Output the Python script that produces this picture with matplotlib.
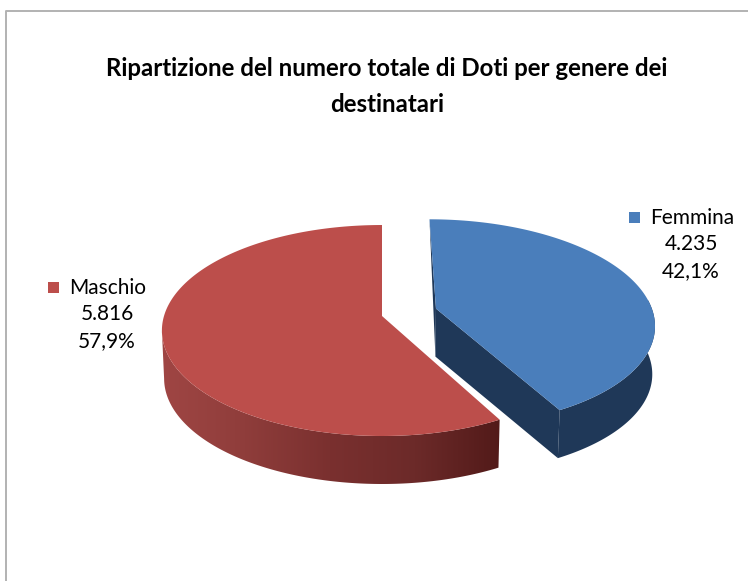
import numpy as np
import matplotlib
matplotlib.use("Agg")
import matplotlib.pyplot as plt
from matplotlib.colors import LinearSegmentedColormap
from matplotlib.patches import Polygon, Rectangle

# dati
categories = ["Femmina", "Maschio"]
values = [4235, 5816]
title_lines = ["Ripartizione del numero totale di Doti per genere dei", "destinatari"]

# layout in pixel, stessa prospettiva per le due fette
CX, CY = 382, 316
RX, RY = 218, 103.5
PERSP = 0.1375
DEPTH = 48
BOTTOM_SCALE = 0.99

plt.rcParams["font.family"] = ["Lato", "DejaVu Sans"]


def project(u, v, bottom=False):
    k = 1 / (1 + PERSP * v)
    x = RX * u * k
    y = CY - RY * v * k
    if bottom:
        return CX + x * BOTTOM_SCALE, y + DEPTH
    return CX + x, y


def rim(a0, a1, du, dv, bottom=False, n=160):
    # angoli in gradi, in senso orario dalle ore 12
    t = np.radians(np.linspace(a0, a1, n))
    return project(np.sin(t) + du, np.cos(t) + dv, bottom)


fig = plt.figure(figsize=(7.48, 5.81), dpi=100)
ax = fig.add_axes([0, 0, 1, 1])
ax.axis("off")

# cornice
ax.plot([6, 6, 748], [581, 10.5, 10.5], color="#b2b2b2", lw=1.4, zorder=1)

shares = np.array(values) / sum(values) * 100
blue_end = shares[0] * 3.6

# fetta rossa (Maschio): fianco sfumato da sinistra a destra
red_cmap = LinearSegmentedColormap.from_list(
    "red_side", ["#a04644", "#8f3d3b", "#7a302f", "#6c2a29", "#521a19"])
xt, yt = rim(blue_end, 262, 0, 0)
xb, yb = rim(blue_end, 262, 0, 0, bottom=True)
side = Polygon(np.column_stack([np.r_[xt, xb[::-1]], np.r_[yt, yb[::-1]]]), closed=True,
               fc="none", ec="none", transform=ax.transData)
ax.add_patch(side)
grad = ax.imshow(np.linspace(0, 1, 256)[None, :], cmap=red_cmap, aspect="auto",
                 extent=[xt.min() - 3, xt.max() + 1, yb.max() + 1, yt.min() - 1], zorder=2)
grad.set_clip_path(side)

xt, yt = rim(blue_end, 360, 0, 0, n=240)
ax.add_patch(Polygon(np.column_stack([np.r_[xt, CX], np.r_[yt, CY]]), closed=True,
                     fc="#bc4e4b", ec="none", zorder=3))

# fetta blu (Femmina), esplosa verso destra
DU, DV = 0.25, 0.072
blue_side = "#1f3858"
xt, yt = rim(0, blue_end, DU, DV)
xs, ys = rim(85, blue_end, DU, DV)
xb, yb = rim(85, blue_end, DU, DV, bottom=True)
px_t, py_t = project(DU, DV)
px_b, py_b = project(DU, DV, bottom=True)
ax.add_patch(Polygon(np.column_stack([np.r_[xs, xb[::-1]], np.r_[ys, yb[::-1]]]), closed=True,
                     fc=blue_side, ec="none", zorder=4))
ax.add_patch(Polygon([(xt[0], yt[0]), (px_t, py_t), (px_b, py_b)], closed=True,
                     fc=blue_side, ec="none", zorder=4))
ax.add_patch(Polygon([(px_t, py_t), (xs[-1], ys[-1]), (xb[-1], yb[-1]), (px_b, py_b)], closed=True,
                     fc=blue_side, ec="none", zorder=4))
ax.add_patch(Polygon(np.column_stack([np.r_[xt, px_t], np.r_[yt, py_t]]), closed=True,
                     fc="#4a7ebb", ec="none", zorder=5))

# titolo
ax.text(387, 69, title_lines[0], ha="center", va="center", fontsize=17.3, weight="bold", color="black")
ax.text(387, 104, title_lines[1], ha="center", va="center", fontsize=17.3, weight="bold", color="black")


def label(name, value, share, x_text, x_center, y0, square_x, color):
    ax.add_patch(Rectangle((square_x, y0 - 6), 11, 11, fc=color, ec="none", zorder=6))
    ax.text(x_text, y0, name, ha="left", va="center", fontsize=15, color="black")
    ax.text(x_center, y0 + 26, f"{value:,}".replace(",", "."), ha="center", va="center", fontsize=15)
    ax.text(x_center, y0 + 53, f"{share:.1f}%".replace(".", ","), ha="center", va="center", fontsize=15)


label(categories[0], values[0], shares[0], 650, 691, 218, 629, "#4a7ebb")
label(categories[1], values[1], shares[1], 69, 107, 288, 48, "#bc4e4b")

ax.set_xlim(0, 748)
ax.set_ylim(581, 0)

fig.savefig("out.png", dpi=100)
